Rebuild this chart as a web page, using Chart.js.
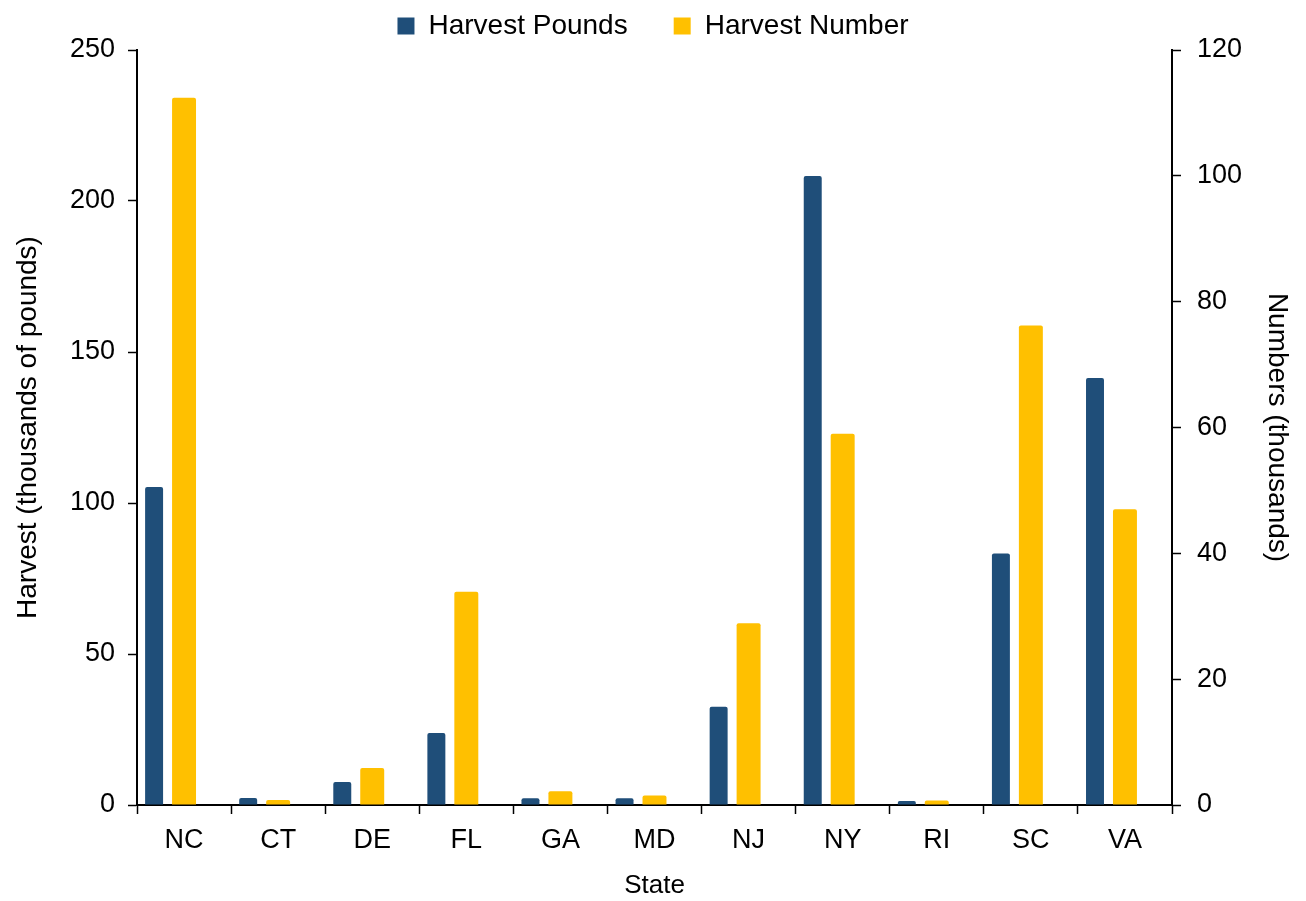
<!DOCTYPE html>
<html>
<head>
<meta charset="utf-8">
<script src="https://cdn.jsdelivr.net/npm/chart.js@4.4.1/dist/chart.umd.min.js"></script>
<style>
  body { margin: 0; background: #fff; }
  #wrap { width: 1306px; height: 901px; }
</style>
</head>
<body>
<div id="wrap"><canvas id="myChart"></canvas></div>
<script>
const states = ['NC', 'CT', 'DE', 'FL', 'GA', 'MD', 'NJ', 'NY', 'RI', 'SC', 'VA'];
// thousands of pounds (left axis)
const harvestPounds = [105.3, 2.3, 7.6, 23.8, 2.2, 2.2, 32.5, 208.3, 1.3, 83.3, 141.4];
// thousands of fish (right axis)
const harvestNumber = [112.4, 0.8, 5.9, 33.9, 2.2, 1.5, 28.9, 59.0, 0.7, 76.2, 47.0];
const poundsTicks = [0, 50, 100, 150, 200, 250];
const numberTicks = [0, 20, 40, 60, 80, 100, 120];

const FONT = 'Arial, "Liberation Sans", sans-serif';
const navy = '#1F4E79';
const gold = '#FFC000';

const ctx = document.getElementById('myChart').getContext('2d');

const axisGrid = {
  display: true,
  drawOnChartArea: false,
  drawTicks: true,
  tickLength: 9,
  tickWidth: 1.5,
  color: '#000'
};
const tickFont = { family: FONT, size: 27 };
const titleFont = { family: FONT, size: 28 };

const chart = new Chart(ctx, {
  type: 'bar',
  data: {
    labels: states,
    datasets: [{
      label: 'Harvest Pounds',
      data: harvestPounds,
      backgroundColor: navy,
      yAxisID: 'y',
      barPercentage: 0.6,
      categoryPercentage: 0.955,
      borderRadius: 2
    }, {
      label: 'Harvest Number',
      data: harvestNumber,
      backgroundColor: gold,
      yAxisID: 'y1',
      barPercentage: 0.8,
      categoryPercentage: 0.955,
      borderRadius: 2
    }, {
      // empty slot so the pounds bar sits left of the number bar
      label: 'spacer',
      data: states.map(() => null),
      yAxisID: 'y',
      categoryPercentage: 0.955
    }]
  },
  options: {
    responsive: true,
    maintainAspectRatio: false,
    animation: false,
    layout: { padding: { top: -34, left: 0, right: 0, bottom: 0 } },
    plugins: {
      legend: {
        position: 'top',
        labels: {
          color: '#000',
          boxWidth: 17,
          boxHeight: 17,
          padding: 46,
          font: { family: FONT, size: 28 },
          filter: item => item.text !== 'spacer'
        }
      },
      tooltip: { enabled: false }
    },
    scales: {
      x: {
        grid: Object.assign({}, axisGrid, { offset: true }),
        border: { color: '#000', width: 2 },
        ticks: { color: '#000', padding: 10, font: tickFont },
        title: { display: true, text: 'State', color: '#000', font: { family: FONT, size: 26 }, padding: { top: 4, bottom: 0 } },
        afterFit: s => { s.height = 96; }
      },
      y: {
        position: 'left',
        min: 0,
        max: 250,
        afterBuildTicks: s => { s.ticks = poundsTicks.map(v => ({ value: v })); },
        grid: axisGrid,
        border: { color: '#000', width: 2 },
        ticks: { color: '#000', padding: 13, font: tickFont },
        title: { display: true, text: 'Harvest (thousands of pounds)', color: '#000', font: titleFont, padding: 11 },
        afterFit: s => { s.width = 137; }
      },
      y1: {
        position: 'right',
        min: 0,
        max: 120,
        afterBuildTicks: s => { s.ticks = numberTicks.map(v => ({ value: v })); },
        grid: axisGrid,
        border: { color: '#000', width: 2 },
        ticks: { color: '#000', padding: 16, font: tickFont },
        title: { display: true, text: 'Numbers (thousands)', color: '#000', font: titleFont, padding: 12 },
        afterFit: s => { s.width = 134; }
      }
    }
  }
});
</script>
</body>
</html>
